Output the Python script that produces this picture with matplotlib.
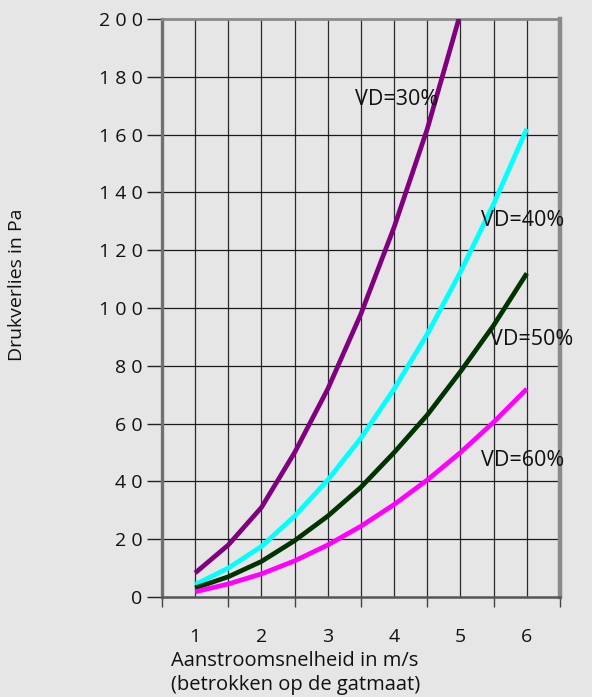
import matplotlib.pyplot as plt
from matplotlib.ticker import FixedLocator

plt.rcParams['font.family'] = ['Open Sans', 'DejaVu Sans']

# aanstroomsnelheid (m/s) en drukverlies (Pa) per vrije doorlaat
snelheid = [1, 1.5, 2, 2.5, 3, 3.5, 4, 4.5, 5, 5.5, 6]
vd30 = [8.3, 18, 31, 50, 72, 98, 128, 162, 202, 244, 290]
vd40 = [4.3, 10, 17.5, 28, 40.5, 55, 72, 91, 112.5, 136, 162]
vd50 = [3.1, 7, 12.3, 19.5, 28, 38, 50, 63, 78, 94, 112]
vd60 = [1.8, 4.5, 8, 12.5, 18, 24.5, 32, 40.5, 50, 60.5, 72]
series = [("VD=30%", vd30, "#800080"), ("VD=40%", vd40, "#00ffff"),
          ("VD=50%", vd50, "#003300"), ("VD=60%", vd60, "#ff00ff")]
label_pos = {"VD=30%": (4.04, 172), "VD=40%": (5.93, 130.4),
             "VD=50%": (6.08, 89), "VD=60%": (5.93, 47.4)}
y_ticks = list(range(0, 201, 20))
x_labels = ["1", "2", "3", "4", "5", "6"]

bg = "#e6e6e6"
fig = plt.figure(figsize=(5.92, 6.97), dpi=100, facecolor=bg)
ax = fig.add_axes([0.2736, 0.1435, 0.9459 - 0.2736, 0.9727 - 0.1435])
ax.set_facecolor(bg)

for name, vals, col in series:
    ax.plot(snelheid, vals, color=col, lw=3.4, solid_joinstyle='round',
            solid_capstyle='butt', zorder=3)
    tx, ty = label_pos[name]
    ax.text(tx, ty, name, ha='center', va='center', fontsize=15.5,
            color='#111111', zorder=4)

ax.set_xlim(0.5, 6.5)
ax.set_ylim(0, 200)

# grid
for xv in [0.5 + 0.5 * k for k in range(1, 12)]:
    ax.axvline(xv, color='#2a2a2a', lw=0.9, zorder=1)
for yv in y_ticks[1:-1]:
    ax.axhline(yv, color='#1a1a1a', lw=0.9, zorder=1)

# y axis
ax.yaxis.set_major_locator(FixedLocator(y_ticks))
ax.set_yticklabels([" ".join(str(v)) for v in y_ticks])
ax.tick_params(axis='y', length=11, width=1, color='#222222', pad=3,
               labelsize=14, labelcolor='#111111')

# x axis: tick marks between categories, labels at centres
ax.xaxis.set_major_locator(FixedLocator([0.5 + k for k in range(7)]))
ax.xaxis.set_minor_locator(FixedLocator([1, 2, 3, 4, 5, 6]))
ax.set_xticklabels([])
ax.set_xticklabels(x_labels, minor=True)
ax.tick_params(axis='x', which='major', length=7, width=1, color='#444444')
ax.tick_params(axis='x', which='minor', length=0, pad=22, labelsize=14,
               labelcolor='#111111')

ax.spines['left'].set_color('#707070')
ax.spines['left'].set_linewidth(2.4)
ax.spines['right'].set_color('#8a8a8a')
ax.spines['right'].set_linewidth(3.2)
ax.spines['top'].set_color('#8a8a8a')
ax.spines['top'].set_linewidth(2)
ax.spines['bottom'].set_color('#555555')
ax.spines['bottom'].set_linewidth(1.8)

ax.set_ylabel("Drukverlies in Pa", fontsize=14, color='#111111', va='center')
ax.yaxis.set_label_coords(-0.365, 0.54)

fig.text(295 / 592, 1 - 661 / 697, "Aanstroomsnelheid in m/s", ha='center',
         va='center', fontsize=14.5, color='#111111')
fig.text(296 / 592, 1 - 685 / 697, "(betrokken op de gatmaat)", ha='center',
         va='center', fontsize=14.5, color='#111111')

fig.savefig("out.png", dpi=100, facecolor=bg)
